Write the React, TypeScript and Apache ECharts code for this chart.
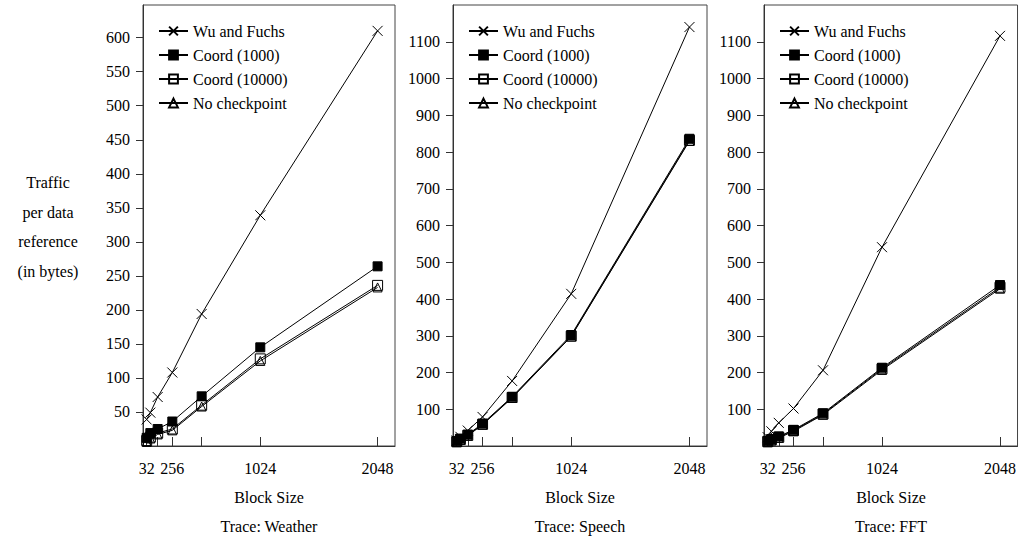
import React, { useEffect, useRef } from 'react';
import * as echarts from 'echarts';

const blockSizes = [32, 64, 128, 256, 512, 1024, 2048];
const seriesNames = ['Wu and Fuchs', 'Coord (1000)', 'Coord (10000)', 'No checkpoint'];

const weatherWu = [39, 49, 72, 108, 194, 339, 610];
const weatherCoord1000 = [12, 19, 25, 36, 73, 145, 264];
const weatherCoord10000 = [8, 13, 19, 25, 60, 128, 236];
const weatherNoCkpt = [6, 11, 17, 23, 58, 125, 233];

const speechWu = [15, 25, 42, 79, 177, 414, 1140];
const speechCoord1000 = [13, 20, 31, 61, 134, 302, 836];
const speechCoord10000 = [12, 18, 29, 59, 132, 299, 832];
const speechNoCkpt = [10, 17, 28, 58, 131, 298, 830];

const fftWu = [24, 40, 63, 102, 206, 541, 1116];
const fftCoord1000 = [14, 19, 26, 44, 89, 213, 438];
const fftCoord10000 = [12, 17, 24, 42, 87, 210, 432];
const fftNoCkpt = [10, 15, 22, 40, 85, 207, 428];

const xLabelValues = [32, 256, 1024, 2048];
const xTickValues = [32, 64, 128, 256, 512, 1024, 2048];
const weatherYTicks = [50, 100, 150, 200, 250, 300, 350, 400, 450, 500, 550, 600];
const bigYTicks = [100, 200, 300, 400, 500, 600, 700, 800, 900, 1000, 1100];
const traceTitles = ['Trace: Weather', 'Trace: Speech', 'Trace: FFT'];
const xAxisTitle = 'Block Size';
const yAxisTitle = 'Traffic\nper data\nreference\n(in bytes)';

const FONT = "'Liberation Serif', 'Times New Roman', serif";

export default function App() {
  const ref = useRef<HTMLDivElement>(null);

  useEffect(() => {
    if (!ref.current) return;
    const chart = echarts.init(ref.current, null, { renderer: 'svg' });

    const panels = [
      { left: 143, width: 252, max: 648, yTicks: weatherYTicks, data: [weatherWu, weatherCoord1000, weatherCoord10000, weatherNoCkpt] },
      { left: 453, width: 254, max: 1200, yTicks: bigYTicks, data: [speechWu, speechCoord1000, speechCoord10000, speechNoCkpt] },
      { left: 764, width: 254, max: 1200, yTicks: bigYTicks, data: [fftWu, fftCoord1000, fftCoord10000, fftNoCkpt] },
    ];

    const symbols = [
      { symbol: 'path://M0,0L10,10M0,10L10,0', size: 10, fill: 'transparent' },
      { symbol: 'rect', size: 9, fill: '#000' },
      { symbol: 'rect', size: 10, fill: 'transparent' },
      { symbol: 'triangle', size: 9, fill: 'transparent' },
    ];

    const top = 5;
    const height = 441;
    const plain = (v: number) => String(v);

    const grid = panels.map((p) => ({
      left: p.left,
      width: p.width,
      top,
      height,
      show: true,
      borderColor: '#444',
      borderWidth: 1,
      backgroundColor: 'transparent',
    }));

    const xAxis = panels.map((p, i) => ({
      type: 'value',
      gridIndex: i,
      min: 0,
      max: 2200,
      axisLine: { show: true, lineStyle: { color: '#333', width: 1 } },
      axisTick: { show: true, inside: true, length: 9, customValues: xTickValues, lineStyle: { color: '#333' } },
      axisLabel: { show: true, customValues: xLabelValues, formatter: plain, margin: 14, color: '#000', fontSize: 16, fontFamily: FONT },
      splitLine: { show: false },
    }));

    const yAxis = panels.map((p, i) => ({
      type: 'value',
      gridIndex: i,
      min: 0,
      max: p.max,
      axisLine: { show: true, lineStyle: { color: '#333', width: 1 } },
      axisTick: { show: true, inside: false, length: 7, customValues: p.yTicks, lineStyle: { color: '#333' } },
      axisLabel: { show: true, customValues: p.yTicks, formatter: plain, margin: 13, color: '#000', fontSize: 16, fontFamily: FONT },
      splitLine: { show: false },
    }));

    const series: any[] = [];
    panels.forEach((p, i) => {
      p.data.forEach((vals, k) => {
        series.push({
          type: 'line',
          name: seriesNames[k],
          xAxisIndex: i,
          yAxisIndex: i,
          data: blockSizes.map((b, j) => [b, vals[j]]),
          symbol: symbols[k].symbol,
          symbolSize: symbols[k].size,
          showSymbol: true,
          lineStyle: { color: '#000', width: 1 },
          itemStyle: { color: symbols[k].fill, borderColor: '#000', borderWidth: 1 },
          emphasis: { disabled: true },
          z: 2 + k,
        });
      });
    });

    const legend = panels.map((p) => ({
      show: true,
      orient: 'vertical',
      left: p.left + 10,
      top: 18,
      itemWidth: 29,
      itemHeight: 11,
      itemGap: 8,
      selectedMode: false,
      data: seriesNames,
      textStyle: { color: '#000', fontSize: 16, fontFamily: FONT, lineHeight: 16, padding: [0, 0, 0, 0] },
    }));

    const graphic: any[] = [
      {
        type: 'text',
        x: 48,
        y: 168,
        style: {
          text: yAxisTitle,
          fontSize: 16,
          lineHeight: 29.5,
          fontFamily: FONT,
          fill: '#000',
          align: 'center',
          verticalAlign: 'top',
        },
      },
    ];
    panels.forEach((p, i) => {
      const cx = p.left + p.width / 2;
      graphic.push({
        type: 'text',
        x: cx,
        y: 497,
        style: { text: xAxisTitle, fontSize: 16, fontFamily: FONT, fill: '#000', align: 'center', verticalAlign: 'middle' },
      });
      graphic.push({
        type: 'text',
        x: cx,
        y: 526,
        style: { text: traceTitles[i], fontSize: 16, fontFamily: FONT, fill: '#000', align: 'center', verticalAlign: 'middle' },
      });
    });

    chart.setOption({
      animation: false,
      backgroundColor: '#fff',
      textStyle: { fontFamily: FONT },
      grid,
      xAxis,
      yAxis,
      legend,
      series,
      graphic,
    });

    return () => {
      chart.dispose();
    };
  }, []);

  return (
    <div
      ref={ref}
      style={{ position: 'fixed', left: 0, top: 0, width: 1019, height: 539, background: '#fff' }}
    />
  );
}
